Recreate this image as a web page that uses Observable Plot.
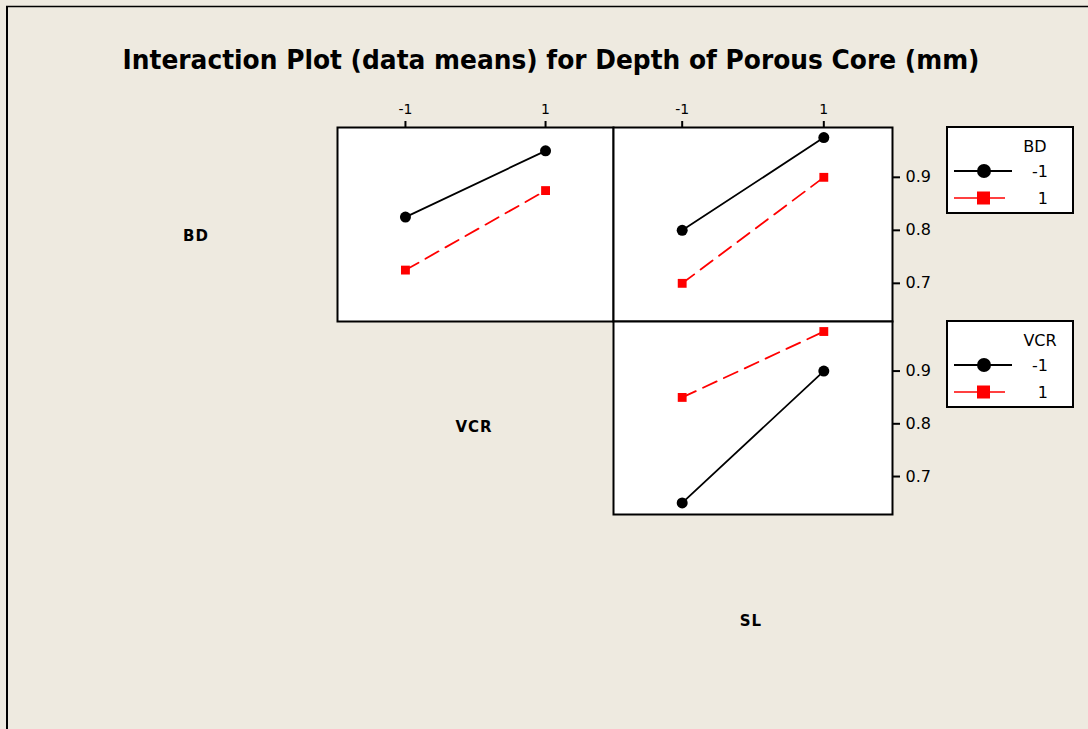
<!DOCTYPE html>
<html><head><meta charset="utf-8">
<script src="https://cdn.jsdelivr.net/npm/d3@7"></script>
<script src="https://cdn.jsdelivr.net/npm/@observablehq/plot@0.6"></script>
<style>
html,body{margin:0;padding:0;background:#EEEAE0;}
#root{position:relative;width:1088px;height:729px;background:#EEEAE0;overflow:hidden;font-family:"DejaVu Sans",sans-serif;}
#root svg{position:absolute;}
</style></head><body><div id="root"></div>
<script>
const titleText = "Interaction Plot (data means) for Depth of Porous Core (mm)";
const factorLevels = [-1, 1];
const yTickValues = [0.7, 0.8, 0.9];
// means for trace factor level -1 / 1 across the x-axis factor levels -1, 1
const bdMinusVsVCR = [0.825, 0.95];
const bdPlusVsVCR = [0.725, 0.875];
const bdMinusVsSL = [0.80, 0.975];
const bdPlusVsSL = [0.70, 0.90];
const vcrMinusVsSL = [0.65, 0.90];
const vcrPlusVsSL = [0.85, 0.975];
const rowFactors = ["BD", "VCR", "SL"];
const legendFactors = ["BD", "VCR"];
const legendLabels = ["-1", "1"];
const seriesColors = ["black", "#ff0000"];

const root = document.getElementById("root");
const rows = (vals) => factorLevels.map((x, i) => ({x, y: vals[i]}));

function panel(minusVals, plusVals, {left, top, w, h, xAxis, yAxis}) {
  const mL = 4, mT = 36, mR = 60, mB = 4;
  const minus = rows(minusVals), plus = rows(plusVals);
  const marks = [
    Plot.frame({fill: "white", stroke: "black", strokeWidth: 2}),
    Plot.line(plus, {x: "x", y: "y", stroke: seriesColors[1], strokeWidth: 1.8, strokeDasharray: "15,8"}),
    Plot.line(minus, {x: "x", y: "y", stroke: seriesColors[0], strokeWidth: 1.8}),
    Plot.dot(plus, {x: "x", y: "y", symbol: "square", r: 5, fill: seriesColors[1], stroke: "none"}),
    Plot.dot(minus, {x: "x", y: "y", symbol: "circle", r: 5.5, fill: seriesColors[0], stroke: "none"})
  ];
  if (xAxis) marks.push(Plot.axisX({anchor: "top", ticks: factorLevels, tickSize: 7, tickPadding: 7, strokeWidth: 2, tickFormat: d => String(d), label: null}));
  if (yAxis) marks.push(Plot.axisY({anchor: "right", ticks: yTickValues, tickSize: 7, tickPadding: 6, strokeWidth: 2, tickFormat: d3.format(".1f"), label: null}));
  const svg = Plot.plot({
    width: w + mL + mR, height: h + mT + mB,
    marginLeft: mL, marginTop: mT, marginRight: mR, marginBottom: mB,
    style: {background: "transparent", overflow: "visible", color: "black", fontFamily: "DejaVu Sans, sans-serif"},
    x: {domain: [-1.97, 1.97], axis: xAxis ? undefined : null},
    y: {domain: [0.628, 0.994], axis: yAxis ? undefined : null},
    marks
  });
  svg.style.left = (left - mL) + "px";
  svg.style.top = (top - mT) + "px";
  svg.querySelectorAll("text").forEach(t => {
    const isY = /^0\./.test(t.textContent);
    t.style.fontSize = isY ? "16px" : "14px";
  });
  root.appendChild(svg);
}

panel(bdMinusVsVCR, bdPlusVsVCR, {left: 337, top: 127, w: 276, h: 194, xAxis: true, yAxis: false});
panel(bdMinusVsSL, bdPlusVsSL, {left: 613, top: 127, w: 279, h: 194, xAxis: true, yAxis: true});
panel(vcrMinusVsSL, vcrPlusVsSL, {left: 613, top: 321, w: 279, h: 193, xAxis: false, yAxis: true});

// overlay: border, title, factor labels, legends
const ov = d3.select(root).append("svg")
  .attr("width", 1088).attr("height", 729)
  .style("left", "0px").style("top", "0px").style("pointer-events", "none");
ov.append("line").attr("x1", 7).attr("x2", 7).attr("y1", 6).attr("y2", 729).attr("stroke", "black").attr("stroke-width", 2);
ov.append("line").attr("x1", 6).attr("x2", 1088).attr("y1", 6.5).attr("y2", 6.5).attr("stroke", "black").attr("stroke-width", 1.5);

ov.append("text").attr("x", 551).attr("y", 69).attr("text-anchor", "middle")
  .attr("font-family", "DejaVu Sans, sans-serif").attr("font-weight", "bold").attr("font-size", 27)
  .attr("textLength", 857).attr("lengthAdjust", "spacingAndGlyphs").text(titleText);

const labelPos = [[196, 241], [474, 432], [751, 626]];
rowFactors.forEach((f, i) => {
  ov.append("text").attr("x", labelPos[i][0]).attr("y", labelPos[i][1]).attr("text-anchor", "middle")
    .attr("font-family", "DejaVu Sans, sans-serif").attr("font-weight", "bold").attr("font-size", 15)
    .attr("letter-spacing", 1).text(f);
});

const legendTops = [127, 321];
legendFactors.forEach((f, k) => {
  const g = ov.append("g").attr("transform", `translate(947,${legendTops[k]})`);
  g.append("rect").attr("x", 0).attr("y", 0).attr("width", 126).attr("height", 86)
    .attr("fill", "white").attr("stroke", "black").attr("stroke-width", 2);
  g.append("text").attr("x", f === "BD" ? 88 : 93).attr("y", 25).attr("text-anchor", "middle")
    .attr("font-size", 16).attr("font-family", "DejaVu Sans, sans-serif").text(f);
  legendLabels.forEach((lab, j) => {
    const y = 44 + j * 27;
    const c = seriesColors[j];
    g.append("line").attr("x1", 7).attr("x2", j === 0 ? 65 : 58).attr("y1", y).attr("y2", y)
      .attr("stroke", c).attr("stroke-width", j === 0 ? 2 : 1.5);
    if (j === 0) g.append("circle").attr("cx", 37).attr("cy", y).attr("r", 7).attr("fill", c);
    else g.append("rect").attr("x", 30).attr("y", y - 6.5).attr("width", 13).attr("height", 13).attr("fill", c);
    g.append("text").attr("x", 101).attr("y", y + 6).attr("text-anchor", "end")
      .attr("font-size", 16).attr("font-family", "DejaVu Sans, sans-serif").text(lab);
  });
});
</script></body></html>
